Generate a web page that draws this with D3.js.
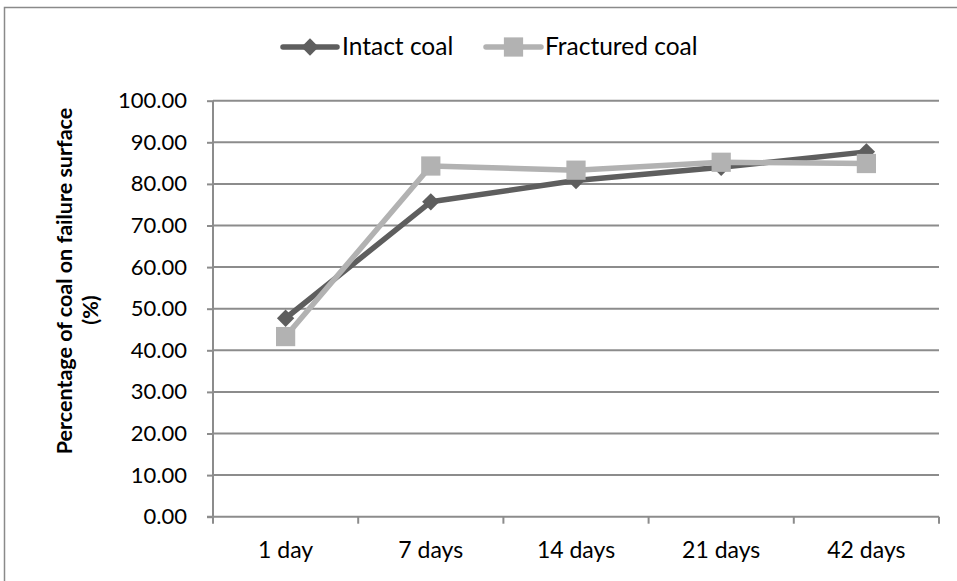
<!DOCTYPE html>
<html>
<head>
<meta charset="utf-8">
<script src="https://cdn.jsdelivr.net/npm/d3@7"></script>
<style>
  html, body { margin: 0; padding: 0; background: #fff; }
  svg { display: block; font-family: Lato, "Open Sans", sans-serif; }
</style>
</head>
<body>
<svg id="chart" width="957" height="581"></svg>
<script>
// Curing age categories and measured percentages
const categories = ["1 day", "7 days", "14 days", "21 days", "42 days"];
const intactCoal = [47.7, 75.7, 80.8, 84.0, 87.7];
const fracturedCoal = [43.3, 84.3, 83.3, 85.2, 84.9];
const yTicks = [0, 10, 20, 30, 40, 50, 60, 70, 80, 90, 100];
const seriesNames = ["Intact coal", "Fractured coal"];

const series = [
  { name: seriesNames[0], values: intactCoal, color: "#5e5e5e", marker: "diamond" },
  { name: seriesNames[1], values: fracturedCoal, color: "#b2b2b2", marker: "square" }
];

const svg = d3.select("#chart");
const W = 957, H = 581;
const plot = { left: 213, right: 939, top: 100.7, bottom: 516.7 };

// chart frame
svg.append("rect")
  .attr("x", 4.5).attr("y", 7.5)
  .attr("width", W + 10).attr("height", H + 10)
  .attr("fill", "none").attr("stroke", "#8a8a8a").attr("stroke-width", 1.5);

const x = d3.scaleBand().domain(categories).range([plot.left, plot.right]).padding(0);
const y = d3.scaleLinear().domain([0, 100]).range([plot.bottom, plot.top]);

// horizontal gridlines
svg.append("g").selectAll("line").data(yTicks.filter(d => d > 0)).join("line")
  .attr("x1", plot.left).attr("x2", plot.right)
  .attr("y1", d => y(d)).attr("y2", d => y(d))
  .attr("stroke", "#8c8c8c").attr("stroke-width", 2);

// y axis
const yAxis = d3.axisLeft(y).tickValues(yTicks).tickFormat(d3.format(".2f"))
  .tickSize(6).tickPadding(20);
const gy = svg.append("g").attr("transform", `translate(${plot.left},0)`).call(yAxis);
gy.select(".domain").remove();
gy.append("line").attr("x1", 0).attr("x2", 0).attr("y1", plot.top).attr("y2", plot.bottom + 6)
  .attr("stroke", "#8c8c8c").attr("stroke-width", 2);
gy.selectAll(".tick line").attr("stroke", "#8c8c8c").attr("stroke-width", 2);
gy.selectAll(".tick text").attr("fill", "#000").style("font-size", "22px")
  .style("font-family", "Lato, sans-serif");

// x axis with ticks on category boundaries
const gx = svg.append("g").attr("transform", `translate(0,${plot.bottom})`);
gx.append("line").attr("x1", plot.left - 6).attr("x2", plot.right)
  .attr("stroke", "#8c8c8c").attr("stroke-width", 2);
const boundaries = categories.map(c => x(c)).concat([x(categories[categories.length - 1]) + x.bandwidth()]);
gx.selectAll("line.b").data(boundaries).join("line").attr("class", "b")
  .attr("x1", d => d).attr("x2", d => d).attr("y1", 0).attr("y2", 7)
  .attr("stroke", "#8c8c8c").attr("stroke-width", 2);
gx.selectAll("text").data(categories).join("text")
  .attr("x", d => x(d) + x.bandwidth() / 2).attr("y", 41)
  .attr("text-anchor", "middle").attr("fill", "#000").style("font-size", "23px")
  .text(d => d);

// y axis title (two lines, rotated)
const title = svg.append("text").attr("transform", "rotate(-90)")
  .attr("text-anchor", "middle").attr("font-weight", "bold").style("font-size", "21.5px").attr("fill", "#000");
title.append("tspan").attr("x", -281).attr("y", 72).text("Percentage of coal on failure surface");
title.append("tspan").attr("x", -310).attr("y", 98).text("(%)");

// marker symbols
const square = d3.symbol().type(d3.symbolSquare).size(370);
const diamond = d3.symbol().type(d3.symbolSquare).size(150);
function drawMarker(g, type, color, cx, cy) {
  if (type === "diamond") {
    g.append("path").attr("d", diamond())
      .attr("transform", `translate(${cx},${cy}) rotate(45)`).attr("fill", color);
  } else {
    g.append("path").attr("d", square())
      .attr("transform", `translate(${cx},${cy})`).attr("fill", color);
  }
}

const cx = d => x(d) + x.bandwidth() / 2;
const line = d3.line().x((d, i) => cx(categories[i])).y(d => y(d));

series.forEach(s => {
  const g = svg.append("g");
  g.append("path").attr("d", line(s.values)).attr("fill", "none")
    .attr("stroke", s.color).attr("stroke-width", 5.5).attr("stroke-linejoin", "round");
  s.values.forEach((v, i) => drawMarker(g, s.marker, s.color, cx(categories[i]), y(v)));
});

// legend
const legendItems = [
  { s: series[0], x0: 283, x1: 337, tx: 342 },
  { s: series[1], x0: 486, x1: 541, tx: 545 }
];
const lg = svg.append("g");
legendItems.forEach(it => {
  lg.append("line").attr("x1", it.x0).attr("x2", it.x1).attr("y1", 47).attr("y2", 47)
    .attr("stroke", it.s.color).attr("stroke-width", 5.5).attr("stroke-linecap", "round");
  drawMarker(lg, it.s.marker, it.s.color, (it.x0 + it.x1) / 2, 47);
  lg.append("text").attr("x", it.tx).attr("y", 55).attr("fill", "#000")
    .style("font-size", "24.5px").text(it.s.name);
});
</script>
</body>
</html>
